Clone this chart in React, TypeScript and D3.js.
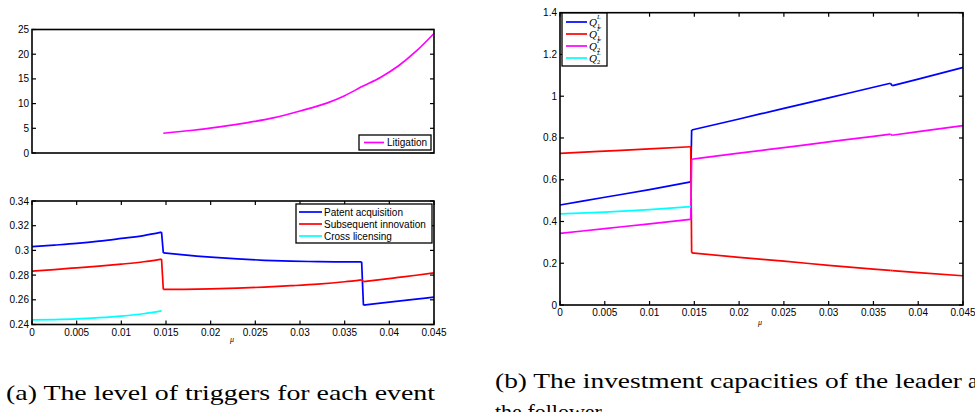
import React, { useEffect } from 'react';
import * as d3 from 'd3';

// ---------- data ----------
const muTicks = [0, 0.005, 0.01, 0.015, 0.02, 0.025, 0.03, 0.035, 0.04, 0.045];
const muTickLabels = ['0', '0.005', '0.01', '0.015', '0.02', '0.025', '0.03', '0.035', '0.04', '0.045'];

const litTicks = [0, 5, 10, 15, 20, 25];
const litTickLabels = ['0', '5', '10', '15', '20', '25'];

const trigTicks = [0.24, 0.26, 0.28, 0.3, 0.32, 0.34];
const trigTickLabels = ['0.24', '0.26', '0.28', '0.3', '0.32', '0.34'];

const capTicks = [0, 0.2, 0.4, 0.6, 0.8, 1, 1.2, 1.4];
const capTickLabels = ['0', '0.2', '0.4', '0.6', '0.8', '1', '1.2', '1.4'];

// (a) top: litigation trigger
const litMu = [0.0147, 0.018, 0.021, 0.024, 0.027, 0.03, 0.033, 0.035, 0.037, 0.039, 0.041, 0.043, 0.045];
const litigation = [4.0, 4.6, 5.3, 6.1, 7.1, 8.5, 10.1, 11.6, 13.5, 15.3, 17.6, 20.6, 24.2];

// (a) bottom: triggers (jumps start at indices 7 and 16)
const trigMu = [0, 0.0025, 0.005, 0.0075, 0.01, 0.0125, 0.0145, 0.0147, 0.017, 0.02, 0.023, 0.026, 0.029, 0.032, 0.035, 0.0369, 0.0371, 0.039, 0.041, 0.043, 0.045];
const trigBreaks = [7, 16];
const patentAcq = [0.303, 0.3043, 0.3057, 0.3075, 0.3097, 0.312, 0.3148, 0.298, 0.2963, 0.2945, 0.2931, 0.292, 0.2913, 0.2909, 0.2907, 0.2907, 0.2557, 0.2573, 0.2589, 0.2605, 0.2621];
const subseqInnov = [0.2832, 0.2845, 0.2859, 0.2873, 0.2889, 0.2908, 0.293, 0.2684, 0.2685, 0.2688, 0.2694, 0.2703, 0.2714, 0.2727, 0.2746, 0.2762, 0.2747, 0.2763, 0.2781, 0.2799, 0.2818];
const crossMu = [0, 0.0025, 0.005, 0.0075, 0.01, 0.0125, 0.0145];
const crossLic = [0.2438, 0.244, 0.2445, 0.2455, 0.2468, 0.2487, 0.251];

// (b) capacities (jumps start at indices 4 and 10)
const capMu = [0, 0.005, 0.01, 0.0146, 0.0147, 0.02, 0.025, 0.03, 0.035, 0.0369, 0.0371, 0.04, 0.045];
const capBreaks = [4, 10];
const q1L = [0.479, 0.516, 0.553, 0.59, 0.838, 0.891, 0.942, 0.992, 1.043, 1.062, 1.05, 1.082, 1.138];
const q1F = [0.726, 0.737, 0.748, 0.758, 0.25, 0.228, 0.21, 0.19, 0.172, 0.166, 0.165, 0.155, 0.14];
const q2F = [0.343, 0.366, 0.389, 0.41, 0.698, 0.727, 0.754, 0.781, 0.808, 0.818, 0.813, 0.83, 0.859];
const q2LMu = [0, 0.005, 0.01, 0.0146];
const q2L = [0.436, 0.445, 0.457, 0.471];

const BLUE = '#0000ff';
const RED = '#ff0000';
const MAGENTA = '#ff00ff';
const CYAN = '#00ffff';
const SANS = '"Liberation Sans", Arial, Helvetica, sans-serif';
const SERIF = '"Liberation Serif", "Times New Roman", serif';

type Sc = d3.ScaleLinear<number, number>;

function Axes({ x, y, yTicks, yLabels, xLabels }: { x: Sc; y: Sc; yTicks: number[]; yLabels: string[]; xLabels: boolean }) {
  const [x0, x1] = x.range();
  const [y0, y1] = y.range(); // y0 bottom, y1 top
  const tl = 4;
  return (
    <g>
      {yTicks.map((t, i) => (
        <g key={'y' + i}>
          <line x1={x0} x2={x0 + tl} y1={y(t)} y2={y(t)} stroke="#000" strokeWidth={1.2} />
          <line x1={x1} x2={x1 - tl} y1={y(t)} y2={y(t)} stroke="#000" strokeWidth={1.2} />
          <text x={x0 - 3} y={y(t)} dy="0.35em" textAnchor="end" fontSize={10} fontFamily={SANS} fill="#000">{yLabels[i]}</text>
        </g>
      ))}
      {xLabels && muTicks.map((t, i) => (
        <g key={'x' + i}>
          <line x1={x(t)} x2={x(t)} y1={y0} y2={y0 - tl} stroke="#000" strokeWidth={1.2} />
          <line x1={x(t)} x2={x(t)} y1={y1} y2={y1 + tl} stroke="#000" strokeWidth={1.2} />
          <text x={x(t)} y={y0 + 11} textAnchor="middle" fontSize={10} fontFamily={SANS} fill="#000">{muTickLabels[i]}</text>
        </g>
      ))}
      <rect x={x0} y={y1} width={x1 - x0} height={y0 - y1} fill="none" stroke="#000" strokeWidth={1.6} />
    </g>
  );
}

// Smooth each continuous piece; connect the pieces with straight jump segments.
function Series({ x, y, xs, ys, breaks, color, curved }: { x: Sc; y: Sc; xs: number[]; ys: number[]; breaks: number[]; color: string; curved: boolean }) {
  const bounds = [0, ...breaks, ys.length];
  const line = d3.line<[number, number]>().x((d) => x(d[0])).y((d) => y(d[1])).curve(curved ? d3.curveMonotoneX : d3.curveLinear);
  const straight = d3.line<[number, number]>().x((d) => x(d[0])).y((d) => y(d[1]));
  const pts: [number, number][] = xs.map((v, i) => [v, ys[i]]);
  const pieces: string[] = [];
  for (let k = 0; k < bounds.length - 1; k++) {
    pieces.push(line(pts.slice(bounds[k], bounds[k + 1])) || '');
  }
  const jumps = breaks.map((b) => straight([pts[b - 1], pts[b]]) || '');
  return (
    <g fill="none" stroke={color} strokeWidth={1.7} strokeLinejoin="round">
      {pieces.map((d, i) => <path key={'p' + i} d={d} />)}
      {jumps.map((d, i) => <path key={'j' + i} d={d} />)}
    </g>
  );
}

export default function App() {
  useEffect(() => {
    document.body.style.margin = '0';
  }, []);

  const xA = d3.scaleLinear().domain([0, 0.045]).range([32, 434]);
  const yTop = d3.scaleLinear().domain([0, 25]).range([153, 29.5]);
  const yBot = d3.scaleLinear().domain([0.24, 0.34]).range([324.5, 201]);
  const xB = d3.scaleLinear().domain([0, 0.045]).range([560, 963]);
  const yB = d3.scaleLinear().domain([0, 1.4]).range([305, 12.7]);

  const lw = 1.7;

  const trigLegend = [
    { label: 'Patent acquisition', color: BLUE },
    { label: 'Subsequent innovation', color: RED },
    { label: 'Cross licensing', color: CYAN },
  ];
  const capLegend = [
    { sub: '1', sup: 'L', color: BLUE },
    { sub: '1', sup: 'F', color: RED },
    { sub: '2', sup: 'F', color: MAGENTA },
    { sub: '2', sup: 'L', color: CYAN },
  ];

  return (
    <svg width={975} height={412} style={{ display: 'block' }} xmlns="http://www.w3.org/2000/svg">
      <rect x={0} y={0} width={975} height={412} fill="#fff" />

      {/* (a) top */}
      <Series x={xA} y={yTop} xs={litMu} ys={litigation} breaks={[]} color={MAGENTA} curved={true} />
      <Axes x={xA} y={yTop} yTicks={litTicks} yLabels={litTickLabels} xLabels={false} />
      <g>
        <rect x={359} y={135} width={72} height={15} fill="#fff" stroke="#000" strokeWidth={1.3} />
        <line x1={364} x2={384} y1={142.5} y2={142.5} stroke={MAGENTA} strokeWidth={lw} />
        <text x={387} y={142.5} dy="0.35em" fontSize={10} fontFamily={SANS}>Litigation</text>
      </g>

      {/* (a) bottom */}
      <Series x={xA} y={yBot} xs={trigMu} ys={patentAcq} breaks={trigBreaks} color={BLUE} curved={true} />
      <Series x={xA} y={yBot} xs={trigMu} ys={subseqInnov} breaks={trigBreaks} color={RED} curved={true} />
      <Series x={xA} y={yBot} xs={crossMu} ys={crossLic} breaks={[]} color={CYAN} curved={true} />
      <Axes x={xA} y={yBot} yTicks={trigTicks} yLabels={trigTickLabels} xLabels={true} />
      <g>
        <rect x={296} y={204} width={136} height={39} fill="#fff" stroke="#000" strokeWidth={1.3} />
        {trigLegend.map((d, i) => (
          <g key={i}>
            <line x1={299} x2={322} y1={212 + i * 12} y2={212 + i * 12} stroke={d.color} strokeWidth={lw} />
            <text x={324} y={212 + i * 12} dy="0.35em" fontSize={10} fontFamily={SANS}>{d.label}</text>
          </g>
        ))}
      </g>
      <text x={232} y={342} textAnchor="middle" fontSize={8} fontStyle="italic" fontFamily={SERIF}>μ</text>

      {/* (b) */}
      <Series x={xB} y={yB} xs={capMu} ys={q1L} breaks={capBreaks} color={BLUE} curved={true} />
      <Series x={xB} y={yB} xs={capMu} ys={q1F} breaks={capBreaks} color={RED} curved={true} />
      <Series x={xB} y={yB} xs={capMu} ys={q2F} breaks={capBreaks} color={MAGENTA} curved={true} />
      <Series x={xB} y={yB} xs={q2LMu} ys={q2L} breaks={[]} color={CYAN} curved={true} />
      <Axes x={xB} y={yB} yTicks={capTicks} yLabels={capTickLabels} xLabels={true} />
      <g>
        <rect x={562} y={13} width={45} height={53} fill="#fff" stroke="#000" strokeWidth={1.3} />
        {capLegend.map((d, i) => (
          <g key={i}>
            <line x1={566} x2={587} y1={22 + i * 12} y2={22 + i * 12} stroke={d.color} strokeWidth={lw} />
            <text x={589} y={22 + i * 12} dy="0.35em" fontSize={11} fontStyle="italic" fontFamily={SERIF}>Q</text>
            <text x={597} y={19 + i * 12} fontSize={6.5} fontStyle="italic" fontFamily={SERIF}>{d.sup}</text>
            <text x={597} y={28 + i * 12} fontSize={6.5} fontFamily={SERIF}>{d.sub}</text>
          </g>
        ))}
      </g>
      <text x={760} y={325} textAnchor="middle" fontSize={8} fontStyle="italic" fontFamily={SERIF}>μ</text>

      {/* captions */}
      <text x={6} y={400} fontSize={22} fontFamily={SERIF} textLength={429} lengthAdjust="spacingAndGlyphs">(a) The level of triggers for each event</text>
      <text x={495} y={388} fontSize={22} fontFamily={SERIF} textLength={467} lengthAdjust="spacingAndGlyphs">(b) The investment capacities of the leader</text>
      <text x={968} y={388} fontSize={22} fontFamily={SERIF}>and</text>
      <text x={495} y={419} fontSize={22} fontFamily={SERIF}>the follower</text>
    </svg>
  );
}
